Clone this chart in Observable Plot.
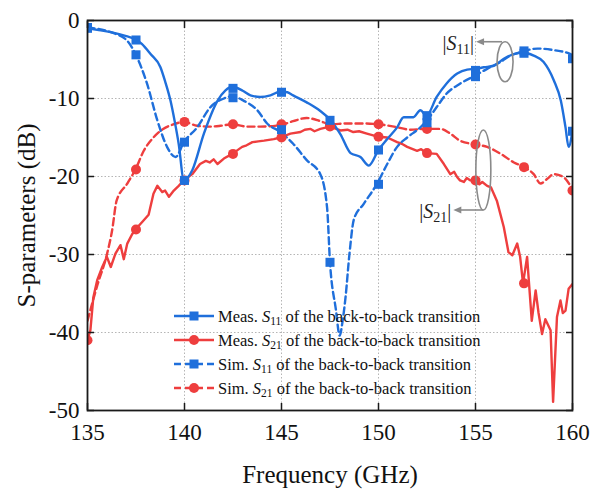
<!DOCTYPE html>
<html><head><meta charset="utf-8">
<script src="https://cdn.jsdelivr.net/npm/d3@7"></script>
<script src="https://cdn.jsdelivr.net/npm/@observablehq/plot@0.6"></script>
<style>
html,body{margin:0;padding:0;background:#fff;}
#chart{width:603px;height:489px;}
</style></head><body><div id="chart"></div>
<script>
// ---------- data (frequency in GHz, level in dB) ----------
const xTicks = [135, 140, 145, 150, 155, 160];
const yTicks = [0, -10, -20, -30, -40, -50];

const measS11 = [
  [135,-1.0],[135.5,-1.2],[136.2,-1.5],[137.0,-2.0],[137.47,-2.4],[137.8,-3.0],[138.25,-4.3],
  [138.76,-6.0],[139.0,-7.8],[139.28,-10.3],[139.5,-13.0],[139.7,-15.8],[139.97,-20.5],
  [140.4,-19.2],[141.0,-14.5],[141.7,-10.3],[142.1,-9.0],[142.46,-8.5],[143.0,-9.0],
  [143.4,-9.6],[143.9,-9.8],[144.43,-9.6],[144.95,-9.1],[145.3,-9.2],[145.6,-9.6],
  [146.3,-10.5],[147.0,-11.6],[147.5,-12.7],[148.04,-14.6],[148.56,-17.0],[149.07,-17.5],
  [149.5,-18.6],[150.0,-16.6],[150.45,-15.2],[150.96,-13.7],[151.3,-12.4],[151.8,-12.4],
  [152.16,-11.5],[152.47,-12.2],[153.0,-9.8],[153.5,-8.1],[154.06,-6.8],[154.57,-6.3],
  [155.0,-6.2],[155.43,-6.0],[155.94,-5.8],[156.46,-4.9],[156.98,-4.3],[157.4,-4.1],
  [158.0,-4.5],[158.5,-5.3],[159.04,-7.7],[159.4,-10.3],[159.64,-13.7],[159.8,-16.2],[160,-14.1]
];
const simS11 = [
  [135,-0.9],[136.2,-1.5],[137.05,-2.6],[137.47,-4.3],[138.07,-8.1],[138.6,-12.8],
  [139.1,-16.2],[139.54,-17.5],[139.97,-15.6],[140.65,-13.7],[141.34,-11.1],[142.03,-10.0],
  [142.45,-9.7],[143.06,-10.3],[143.75,-11.5],[144.26,-13.2],[144.95,-14.3],[145.6,-15.8],
  [146.3,-17.9],[147.0,-19.7],[147.35,-24.0],[147.5,-31.0],[147.8,-37.0],[148.0,-40.4],
  [148.15,-38.5],[148.3,-35.5],[148.5,-30.0],[148.73,-25.5],[149.24,-23.5],[149.93,-20.9],
  [150.45,-18.4],[150.96,-16.2],[151.48,-15.0],[152.16,-13.7],[152.47,-12.9],[153.0,-11.1],
  [153.5,-9.4],[154.2,-8.1],[154.95,-7.1],[155.6,-6.2],[156.3,-5.3],[156.8,-4.5],
  [157.4,-4.0],[158.2,-3.6],[159.04,-3.8],[159.9,-4.3],[160,-4.6]
];
const measS21 = [
  [135,-41.0],[135.15,-39.7],[135.3,-35.5],[135.5,-33.3],[135.76,-31.6],[136.0,-30.3],
  [136.2,-31.6],[136.44,-29.9],[136.7,-28.8],[136.87,-30.6],[137.05,-28.6],[137.3,-27.4],
  [137.47,-26.8],[137.9,-25.6],[138.15,-24.9],[138.4,-22.2],[138.6,-21.2],[138.85,-22.0],
  [139.0,-21.8],[139.2,-22.6],[139.45,-21.8],[139.7,-21.2],[139.97,-20.5],[140.4,-19.7],
  [140.8,-18.4],[141.1,-18.0],[141.3,-18.2],[141.5,-17.8],[141.7,-18.4],[142.03,-17.7],
  [142.46,-17.1],[142.97,-16.2],[143.2,-16.0],[143.5,-15.6],[143.8,-15.5],[144.1,-15.4],
  [144.6,-15.2],[144.95,-15.0],[145.46,-14.5],[145.98,-14.3],[146.2,-14.0],[146.5,-13.9],
  [146.7,-14.2],[147.0,-13.9],[147.5,-13.6],[148.04,-14.1],[148.4,-14.0],[148.7,-14.3],
  [149.0,-14.2],[149.4,-14.5],[149.96,-14.9],[150.45,-15.0],[150.96,-15.6],[151.2,-15.8],
  [151.48,-16.2],[151.99,-16.7],[152.2,-16.5],[152.47,-17.0],[153.0,-17.1],[153.37,-18.4],
  [153.7,-19.7],[153.9,-19.4],[154.06,-20.1],[154.2,-20.5],[154.4,-20.7],[154.55,-20.2],
  [154.74,-20.5],[155.0,-20.5],[155.2,-21.0],[155.35,-20.7],[155.6,-21.2],[155.8,-21.4],
  [156.1,-23.1],[156.46,-26.5],[156.7,-29.7],[156.9,-30.1],[157.15,-28.6],[157.3,-30.3],
  [157.45,-33.7],[157.66,-30.3],[157.9,-38.5],[158.1,-34.6],[158.25,-37.5],[158.43,-40.2],
  [158.6,-38.3],[158.87,-39.7],[159.0,-48.9],[159.2,-38.0],[159.38,-35.9],[159.5,-37.5],
  [159.64,-37.2],[159.8,-34.4],[160,-33.8]
];
const simS21 = [
  [135,-38.5],[135.5,-34.0],[136.0,-30.0],[136.27,-26.9],[136.5,-23.1],[137.05,-20.9],
  [137.47,-19.1],[137.9,-16.7],[138.4,-15.0],[138.9,-13.9],[139.45,-13.3],[139.97,-13.0],
  [140.65,-13.5],[141.34,-13.6],[141.86,-13.5],[142.46,-13.3],[143.2,-13.6],[143.9,-13.6],
  [144.95,-13.4],[145.6,-12.9],[146.3,-12.5],[147.0,-12.9],[147.5,-13.3],[148.4,-13.2],
  [149.07,-13.2],[149.96,-13.3],[150.8,-13.6],[151.65,-14.0],[152.47,-13.9],[153.2,-13.9],
  [153.7,-14.5],[154.2,-15.4],[155.0,-15.9],[155.6,-16.2],[156.3,-17.1],[156.98,-18.2],
  [157.5,-18.8],[158.0,-19.7],[158.35,-20.9],[158.7,-20.3],[159.04,-19.7],[159.55,-20.1],[160,-21.7]
];

// marker samples every 2.5 GHz
const measS11Markers = [[135,-1.0],[137.5,-2.5],[140,-20.5],[142.5,-8.7],[145,-9.2],[147.5,-12.8],[150,-16.6],[152.5,-12.2],[155,-6.4],[157.5,-4.2],[160,-14.2]];
const simS11Markers  = [[135,-0.9],[137.5,-4.4],[140,-15.6],[142.5,-9.9],[145,-14.0],[147.5,-31.0],[150,-21.0],[152.5,-13.1],[155,-7.2],[157.5,-3.9],[160,-4.9]];
const measS21Markers = [[135,-41.0],[137.5,-26.8],[140,-20.5],[142.5,-17.1],[145,-15.0],[147.5,-13.6],[150,-14.9],[152.5,-17.0],[155,-20.5],[157.5,-33.7]];
const simS21Markers  = [[137.5,-19.1],[140,-13.0],[142.5,-13.3],[145,-13.3],[147.5,-13.4],[150,-13.3],[152.5,-13.9],[155,-15.9],[157.5,-18.8],[160,-21.8]];

// legend entries: prefix, subscript
const legendPrefix = ["Meas.", "Meas.", "Sim.", "Sim."];
const legendSub = ["11", "21", "11", "21"];
const legendSuffix = " of the back-to-back transition";

// annotation anchors (centre of the grouping ellipses)
const annS11 = [156.55, -5.35];
const annS21 = [155.43, -19.23];

// ---------- styles ----------
const BLUE = "#1f6fdb", RED = "#ee3e3e", GREY = "#8a8a8a";
const SERIF = "'Liberation Serif','Times New Roman',serif";
const DASH = "7,4";

const legendStyle = [
  {color: BLUE, dash: null, symbol: "square"},
  {color: RED, dash: null, symbol: "circle"},
  {color: BLUE, dash: DASH, symbol: "square"},
  {color: RED, dash: DASH, symbol: "circle"}
];

function overlay(index, scales, values, dims) {
  const x = scales.x, y = scales.y;
  const g = d3.create("svg:g").attr("font-family", SERIF).attr("text-anchor", "start");

  // grouping ellipses, arrows and labels
  const anns = [
    {a: annS11, rx: 8, ry: 20, top: true, sub: "11"},
    {a: annS21, rx: 7.5, ry: 40, top: false, sub: "21"}
  ];
  for (const an of anns) {
    const cx = x(an.a[0]), cy = y(an.a[1]);
    g.append("ellipse").attr("cx", cx).attr("cy", cy).attr("rx", an.rx).attr("ry", an.ry)
      .attr("fill", "none").attr("stroke", GREY).attr("stroke-width", 1.6);
    const ay = an.top ? cy - an.ry : cy + an.ry;
    const x0 = an.top ? cx - 3 : cx;
    const x1 = an.top ? cx - 29 : cx - 30;
    g.append("line").attr("x1", x0).attr("y1", ay).attr("x2", x1 + 6).attr("y2", ay)
      .attr("stroke", GREY).attr("stroke-width", 1.6);
    g.append("path").attr("d", `M${x1},${ay}L${x1 + 8},${ay - 3.5}L${x1 + 8},${ay + 3.5}Z`).attr("fill", GREY);
    const t = g.append("text").attr("x", x1 - 2).attr("y", ay + 8).attr("text-anchor", "end")
      .attr("font-size", 20).attr("fill", "#222");
    t.append("tspan").text("|");
    t.append("tspan").attr("font-style", "italic").text("S");
    t.append("tspan").attr("font-size", 14).attr("dy", 4).text(an.sub);
    t.append("tspan").attr("dy", -4).text("|");
  }

  // legend
  const lx = dims.marginLeft + 87, ly = dims.marginTop + 296;
  legendPrefix.forEach((p, i) => {
    const st = legendStyle[i];
    const yy = ly + i * 24;
    const row = g.append("g");
    row.append("line").attr("x1", lx).attr("x2", lx + 40).attr("y1", yy).attr("y2", yy)
      .attr("stroke", st.color).attr("stroke-width", 2.5)
      .attr("stroke-dasharray", st.dash);
    if (st.symbol === "square") {
      row.append("rect").attr("x", lx + 15.5).attr("y", yy - 4.5).attr("width", 9).attr("height", 9).attr("fill", st.color);
    } else {
      row.append("circle").attr("cx", lx + 20).attr("cy", yy).attr("r", 5).attr("fill", st.color);
    }
    const t = row.append("text").attr("x", lx + 44).attr("y", yy + 5.7).attr("text-anchor", "start")
      .attr("font-size", 16.5).attr("fill", "#111");
    t.append("tspan").text(p + " ");
    t.append("tspan").attr("font-style", "italic").text("S");
    t.append("tspan").attr("font-size", 11.5).attr("dy", 3.5).text(legendSub[i]);
    t.append("tspan").attr("dy", -3.5).text(legendSuffix);
  });
  return g.node();
}

const fx = d => d[0], fy = d => d[1];

const chart = Plot.plot({
  width: 603,
  height: 489,
  marginLeft: 87,
  marginRight: 31,
  marginTop: 20,
  marginBottom: 79,
  style: {fontFamily: SERIF, background: "#fff", color: "#111", overflow: "visible"},
  x: {domain: [135, 160]},
  y: {domain: [-50, 0]},
  marks: [
    Plot.gridX(xTicks.slice(1, -1), {stroke: "#b5b5b5", strokeOpacity: 1, strokeWidth: 1, strokeDasharray: "1.5,2"}),
    Plot.gridY(yTicks.slice(1, -1), {stroke: "#b5b5b5", strokeOpacity: 1, strokeWidth: 1, strokeDasharray: "1.5,2"}),
    Plot.line(simS21, {x: fx, y: fy, stroke: RED, strokeWidth: 2.4, strokeDasharray: DASH, curve: "monotone-x", clip: true}),
    Plot.line(measS21, {x: fx, y: fy, stroke: RED, strokeWidth: 2.4, curve: "linear", clip: true}),
    Plot.line(simS11, {x: fx, y: fy, stroke: BLUE, strokeWidth: 2.4, strokeDasharray: DASH, curve: "monotone-x", clip: true}),
    Plot.line(measS11, {x: fx, y: fy, stroke: BLUE, strokeWidth: 2.4, curve: "monotone-x", clip: true}),
    Plot.dot(simS21Markers, {x: fx, y: fy, r: 5, fill: RED, stroke: "none", symbol: "circle", clip: true}),
    Plot.dot(measS21Markers, {x: fx, y: fy, r: 5, fill: RED, stroke: "none", symbol: "circle", clip: true}),
    Plot.dot(simS11Markers, {x: fx, y: fy, r: 5.1, fill: BLUE, stroke: "none", symbol: "square", clip: true}),
    Plot.dot(measS11Markers, {x: fx, y: fy, r: 5.1, fill: BLUE, stroke: "none", symbol: "square", clip: true}),
    Plot.axisX(xTicks, {anchor: "bottom", tickSize: -7, tickPadding: 20, fontSize: 23, stroke: "#1a1a1a", strokeWidth: 1.5,
      tickFormat: d => String(d), label: "Frequency (GHz)", labelAnchor: "center", labelOffset: 72, labelArrow: "none"}),
    Plot.axisX(xTicks, {anchor: "top", tickSize: -7, stroke: "#1a1a1a", strokeWidth: 1.5, tickFormat: () => "", label: null}),
    Plot.axisY(yTicks, {anchor: "left", tickSize: -7, tickPadding: 15, fontSize: 23, stroke: "#1a1a1a", strokeWidth: 1.5,
      tickFormat: d => String(d), label: "S-parameters (dB)", labelAnchor: "center", labelOffset: 70, labelArrow: "none"}),
    Plot.axisY(yTicks, {anchor: "right", tickSize: -7, stroke: "#1a1a1a", strokeWidth: 1.5, tickFormat: () => "", label: null}),
    Plot.frame({stroke: "#1a1a1a", strokeWidth: 1.8}),
    overlay
  ]
});
// axis label font size
chart.querySelectorAll("[aria-label='x-axis label'], [aria-label='y-axis label']").forEach(el => el.setAttribute("font-size", 25));
document.getElementById("chart").appendChild(chart);
</script>
</body></html>
